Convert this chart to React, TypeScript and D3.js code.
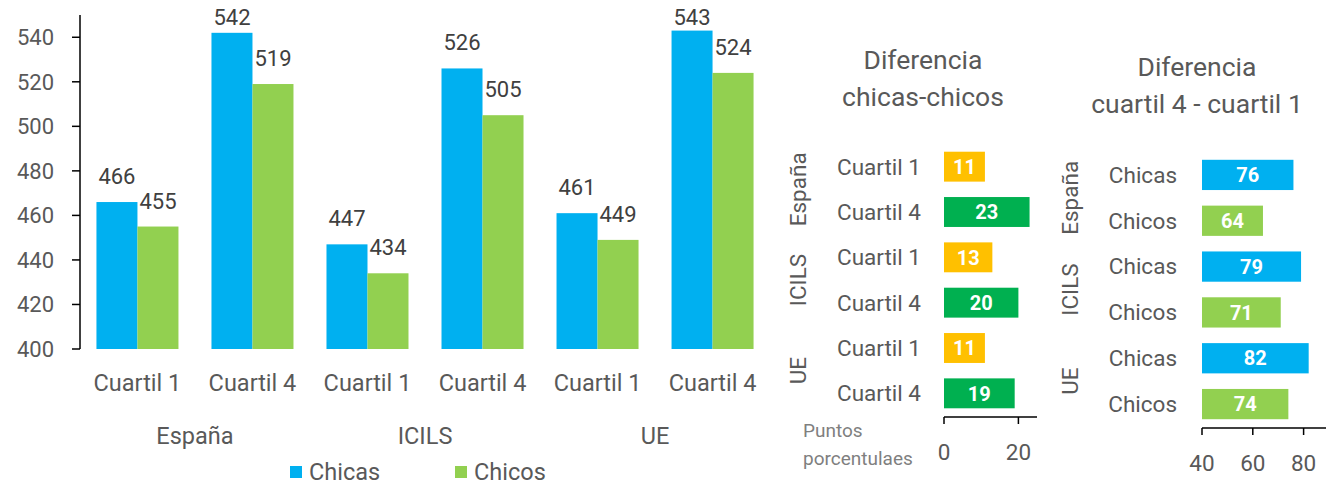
import * as d3 from "d3";

// --- data ---
const groups = ["España", "ICILS", "UE"];
const quartiles = ["Cuartil 1", "Cuartil 4"];
const chicas = [466, 542, 447, 526, 461, 543];
const chicos = [455, 519, 434, 505, 449, 524];
const yTicks = [400, 420, 440, 460, 480, 500, 520, 540];

const genderLabels = ["Cuartil 1", "Cuartil 4", "Cuartil 1", "Cuartil 4", "Cuartil 1", "Cuartil 4"];
const genderDiff = [11, 23, 13, 20, 11, 19];
const genderTicks = [0, 20];

const quartLabels = ["Chicas", "Chicos", "Chicas", "Chicos", "Chicas", "Chicos"];
const quartDiff = [76, 64, 79, 71, 82, 74];
const quartTicks = [40, 60, 80];

const BLUE = "#00B0F0";
const LGREEN = "#92D050";
const ORANGE = "#FFC000";
const DGREEN = "#00B050";
const GREY = "#595959";
const DARK = "#404040";
const FONT = "Roboto, 'Liberation Sans', sans-serif";

function MainChart() {
  const cats = d3.range(chicas.length);
  const x = d3.scaleBand<number>().domain(cats).range([80, 770]).paddingInner(0.287).paddingOuter(0.143);
  const sub = d3.scaleBand<string>().domain(["chicas", "chicos"]).range([0, x.bandwidth()]);
  const y = d3.scaleLinear().domain([400, 550]).range([349, 15]);
  const series = [
    { key: "chicas", values: chicas, color: BLUE },
    { key: "chicos", values: chicos, color: LGREEN },
  ];
  return (
    <g fontFamily={FONT}>
      <line x1={80} x2={80} y1={y(550)} y2={y(400)} stroke="#000" strokeWidth={1.5} />
      {yTicks.map((t) => (
        <g key={t}>
          <line x1={72} x2={80} y1={y(t)} y2={y(t)} stroke="#000" strokeWidth={1.5} />
          <text x={54} y={y(t)} dy="0.35em" textAnchor="end" fontSize={22} fill={GREY}>{t}</text>
        </g>
      ))}
      {series.map((s) =>
        s.values.map((v, i) => {
          const bx = (x(i) ?? 0) + (sub(s.key) ?? 0);
          // Excel keeps the label inside the plot area near the top
          const ly = Math.max(y(v) - 18, 25);
          return (
            <g key={s.key + i}>
              <rect x={bx} y={y(v)} width={sub.bandwidth()} height={y(400) - y(v)} fill={s.color} />
              <text x={bx + sub.bandwidth() / 2} y={ly} textAnchor="middle" fontSize={22} fill={DARK}>{v}</text>
            </g>
          );
        })
      )}
      {cats.map((i) => (
        <text key={"c" + i} x={(x(i) ?? 0) + x.bandwidth() / 2} y={383} dy="0.35em" textAnchor="middle" fontSize={23.5} fill={GREY}>
          {quartiles[i % 2]}
        </text>
      ))}
      {groups.map((g, gi) => {
        const cx = ((x(gi * 2) ?? 0) + (x(gi * 2 + 1) ?? 0) + x.bandwidth()) / 2;
        return (
          <text key={g} x={cx} y={436} dy="0.35em" textAnchor="middle" fontSize={23.5} fill={GREY}>{g}</text>
        );
      })}
      <rect x={290} y={466} width={12} height={12} fill={BLUE} />
      <text x={309} y={472} dy="0.35em" fontSize={23.5} fill={GREY}>Chicas</text>
      <rect x={455} y={466} width={12} height={12} fill={LGREEN} />
      <text x={474} y={472} dy="0.35em" fontSize={23.5} fill={GREY}>Chicos</text>
    </g>
  );
}

type HProps = {
  title: string[];
  titleX: number;
  titleY: number;
  labels: string[];
  values: number[];
  colors: string[];
  domain: [number, number];
  xRange: [number, number];
  yRange: [number, number];
  ticks: number[];
  labelX: number;
  groupX: number;
};

function HBarChart(p: HProps) {
  const rows = d3.range(p.values.length);
  const x = d3.scaleLinear().domain(p.domain).range(p.xRange);
  const y = d3.scaleBand<number>().domain(rows).range(p.yRange).paddingInner(0.34).paddingOuter(0.17);
  const axisY = p.yRange[1] + 1;
  return (
    <g fontFamily={FONT}>
      {p.title.map((t, i) => (
        <text key={t} x={p.titleX} y={p.titleY + i * 37} dy="0.35em" textAnchor="middle" fontSize={26.5} fill={GREY}>{t}</text>
      ))}
      {rows.map((i) => {
        const v = p.values[i];
        const by = y(i) ?? 0;
        return (
          <g key={i}>
            <rect x={x(p.domain[0])} y={by} width={x(v) - x(p.domain[0])} height={y.bandwidth()} fill={p.colors[i]} />
            <text x={(x(p.domain[0]) + x(v)) / 2} y={by + y.bandwidth() / 2} dy="0.36em" textAnchor="middle" fontSize={20} fontWeight="bold" fill="#fff">{v}</text>
            <text x={p.labelX} y={by + y.bandwidth() / 2} dy="0.35em" textAnchor="end" fontSize={22.5} fill={GREY}>{p.labels[i]}</text>
          </g>
        );
      })}
      {groups.map((g, gi) => {
        const cy = ((y(gi * 2) ?? 0) + (y(gi * 2 + 1) ?? 0) + y.bandwidth()) / 2;
        return (
          <text key={g} transform={`translate(${p.groupX},${cy}) rotate(-90)`} dy="0.35em" textAnchor="middle" fontSize={22.5} fill={GREY}>{g}</text>
        );
      })}
      <line x1={p.xRange[0]} x2={p.xRange[1]} y1={axisY} y2={axisY} stroke="#000" strokeWidth={1.5} />
      {p.ticks.map((t) => (
        <g key={t}>
          <line x1={x(t)} x2={x(t)} y1={axisY} y2={axisY + 7} stroke="#000" strokeWidth={1.5} />
          <text x={x(t)} y={axisY + 35} dy="0.35em" textAnchor="middle" fontSize={22.5} fill={GREY}>{t}</text>
        </g>
      ))}
    </g>
  );
}

export default function App() {
  return (
    <svg width={1326} height={488} style={{ position: "absolute", left: 0, top: 0, background: "#fff" }}>
      <MainChart />
      <HBarChart
        title={["Diferencia", "chicas-chicos"]}
        titleX={923}
        titleY={60}
        labels={genderLabels}
        values={genderDiff}
        colors={genderDiff.map((_, i) => (i % 2 === 0 ? ORANGE : DGREEN))}
        domain={[0, 25]}
        xRange={[944, 1037]}
        yRange={[144, 416]}
        ticks={genderTicks}
        labelX={921}
        groupX={798}
      />
      <text x={803} y={430} dy="0.35em" fontFamily={FONT} fontSize={19} fill="#7F7F7F">Puntos</text>
      <text x={803} y={458} dy="0.35em" fontFamily={FONT} fontSize={19} fill="#7F7F7F">porcentulaes</text>
      <HBarChart
        title={["Diferencia", "cuartil 4 - cuartil 1"]}
        titleX={1197}
        titleY={67}
        labels={quartLabels}
        values={quartDiff}
        colors={quartDiff.map((_, i) => (i % 2 === 0 ? BLUE : LGREEN))}
        domain={[40, 90]}
        xRange={[1202, 1329]}
        yRange={[152, 427]}
        ticks={quartTicks}
        labelX={1177}
        groupX={1070}
      />
    </svg>
  );
}
